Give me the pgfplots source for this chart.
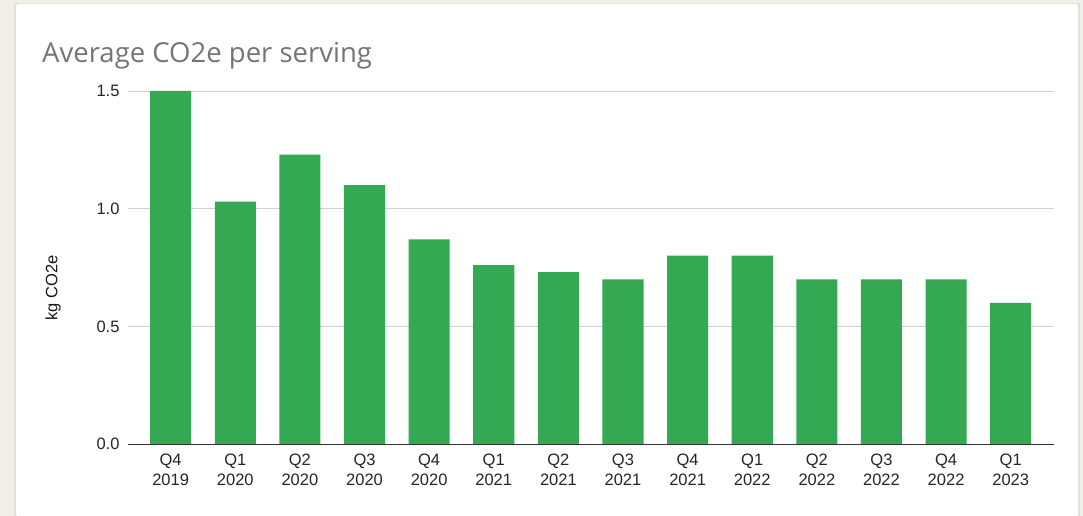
\documentclass[border=0pt]{standalone}
\usepackage{pgfplots}
\pgfplotsset{compat=1.18}
\usepackage{fontspec}
\setmainfont{Liberation Sans}
\newfontfamily\titlefont{Open Sans}
\definecolor{bargreen}{HTML}{34A853}
\definecolor{bgbeige}{HTML}{F1EFEA}
\definecolor{titlegray}{HTML}{757575}
\definecolor{gridgray}{HTML}{D0D0D0}
\begin{document}
\begin{tikzpicture}[x=1pt,y=1pt]
\useasboundingbox (0,0) rectangle (1083,516);
\fill[bgbeige] (0,0) rectangle (1083,516);
\fill[black!12] (14,0) rectangle (1080,513);
\fill[white,rounded corners=2pt] (16,0) rectangle (1078,512);
\node[anchor=base west,font=\titlefont\fontsize{27.5}{31}\selectfont,text=titlegray,inner sep=0pt] at (42,453) {Average CO2e per serving};
\node[rotate=90,font=\fontsize{16.5}{18}\selectfont,inner sep=0pt,text=black!90] at (53,228) {kg CO2e};
\begin{axis}[
  at={(128pt,72pt)}, anchor=south west,
  scale only axis, width=926pt, height=353pt,
  xmin=-0.66, xmax=13.67, ymin=0, ymax=1.5,
  ybar, bar width=0.635,
  axis x line*=bottom, axis y line*=left,
  y axis line style={draw=none},
  x axis line style={black!80, line width=0.8pt, -},
  ytick={0,0.5,1,1.5},
  yticklabels={0.0,0.5,1.0,1.5},
  ymajorgrids, grid style={gridgray, line width=0.8pt},
  xtick=data,
  xticklabels={Q4\\2019,Q1\\2020,Q2\\2020,Q3\\2020,Q4\\2020,Q1\\2021,Q2\\2021,Q3\\2021,Q4\\2021,Q1\\2022,Q2\\2022,Q3\\2022,Q4\\2022,Q1\\2023},
  xticklabel style={align=center, font=\fontsize{16.5}{20.5}\selectfont, text=black!85},
  yticklabel style={font=\fontsize{16.5}{18}\selectfont, text=black!85},
  major tick length=0pt,
  tick style={draw=none},
  xticklabel shift=6pt,
  yticklabel shift=5pt,
  /pgf/number format/assume math mode=true,
  clip=false,
]
\addplot[fill=bargreen, draw=none] coordinates {
(0,1.5) (1,1.03) (2,1.23) (3,1.1) (4,0.87) (5,0.76) (6,0.73) (7,0.7)
(8,0.8) (9,0.8) (10,0.7) (11,0.7) (12,0.7) (13,0.6)};
\end{axis}
\end{tikzpicture}
\end{document}
